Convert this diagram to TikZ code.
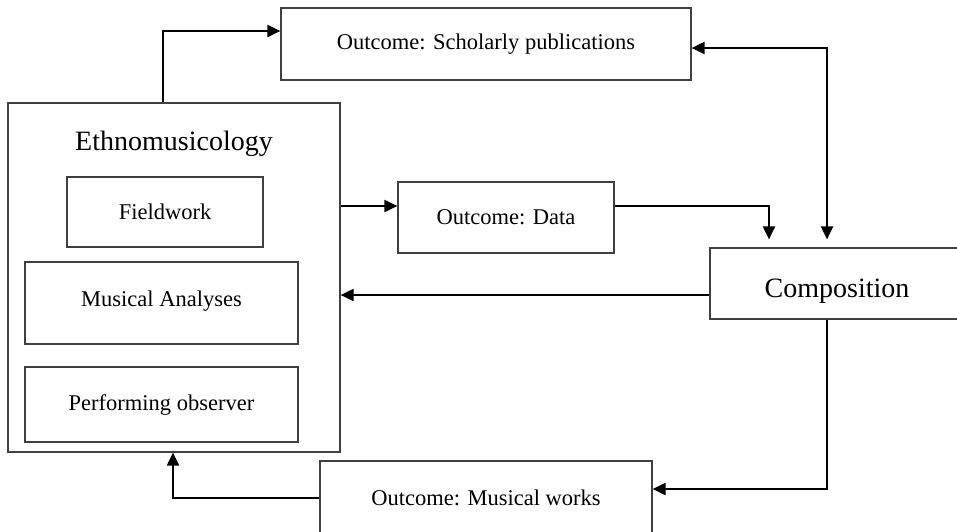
\documentclass[tikz,border=0pt]{standalone}
\usepackage{fontspec}
\setmainfont{Liberation Serif}
\usetikzlibrary{arrows.meta,calc}
\begin{document}
\begin{tikzpicture}[x=1pt,y=-1pt,
  boxnode/.style={draw=black!75,line width=1.2pt,rectangle,inner sep=0pt,
    font=\fontsize{22.5}{27}\selectfont},
  bigtext/.style={font=\fontsize{28}{33}\selectfont},
  arr/.style={line width=2pt,-{Triangle[length=13pt,width=12pt]}},
  arrtwo/.style={line width=2pt,{Triangle[length=13pt,width=12pt]}-{Triangle[length=13pt,width=12pt]}}]
\useasboundingbox (0,0) rectangle (957,531);
\clip (0,0) rectangle (957,531);
\fill[white] (0,0) rectangle (957,531);
% boxes
\node[boxnode,minimum width=332pt,minimum height=349pt] (ethno) at (174,277.5) {};
\node[bigtext] (ethnotitle) at (174,144) {Ethnomusicology};
\node[boxnode,minimum width=196pt,minimum height=70pt] (field) at (165,212) {Fieldwork};
\node[boxnode,minimum width=273pt,minimum height=82pt,text depth=9pt] (anal) at (161.5,303) {Musical Analyses};
\node[boxnode,minimum width=273pt,minimum height=75pt] (perf) at (161.5,404.5) {Performing observer};
\node[boxnode,minimum width=410pt,minimum height=72pt] (schol) at (486,44) {Outcome: Scholarly publications};
\node[boxnode,minimum width=216pt,minimum height=71pt] (data) at (506,217.5) {Outcome: Data};
\node[boxnode,bigtext,minimum width=254pt,minimum height=71pt,text height=27pt,text depth=0pt] (comp) at (837,283.5) {Composition};
\node[boxnode,minimum width=332pt,minimum height=74pt] (works) at (486,498) {Outcome: Musical works};
% connectors
\draw[arr] ([xshift=-11pt]ethno.north) |- ($(schol.west)+(0,-13)$);
\draw[arrtwo,shorten >=8pt] ($(schol.east)+(0,4)$) -| ([xshift=-10pt]comp.north);
\draw[arr] ($(ethno.east)+(0,-71.5)$) -- ($(data.west)+(0,-11.5)$);
\draw[arr,shorten >=8pt] ($(data.east)+(0,-11.5)$) -| ([xshift=-68pt]comp.north);
\draw[arr] ($(comp.west)+(0,11.5)$) coordinate (c1) -- (ethno.east |- c1);
\draw[arr] ([xshift=-10pt]comp.south) |- ($(works.east)+(0,-9)$);
\draw[arr] (works.west) -| ([xshift=-1pt]ethno.south);
\end{tikzpicture}
\end{document}
